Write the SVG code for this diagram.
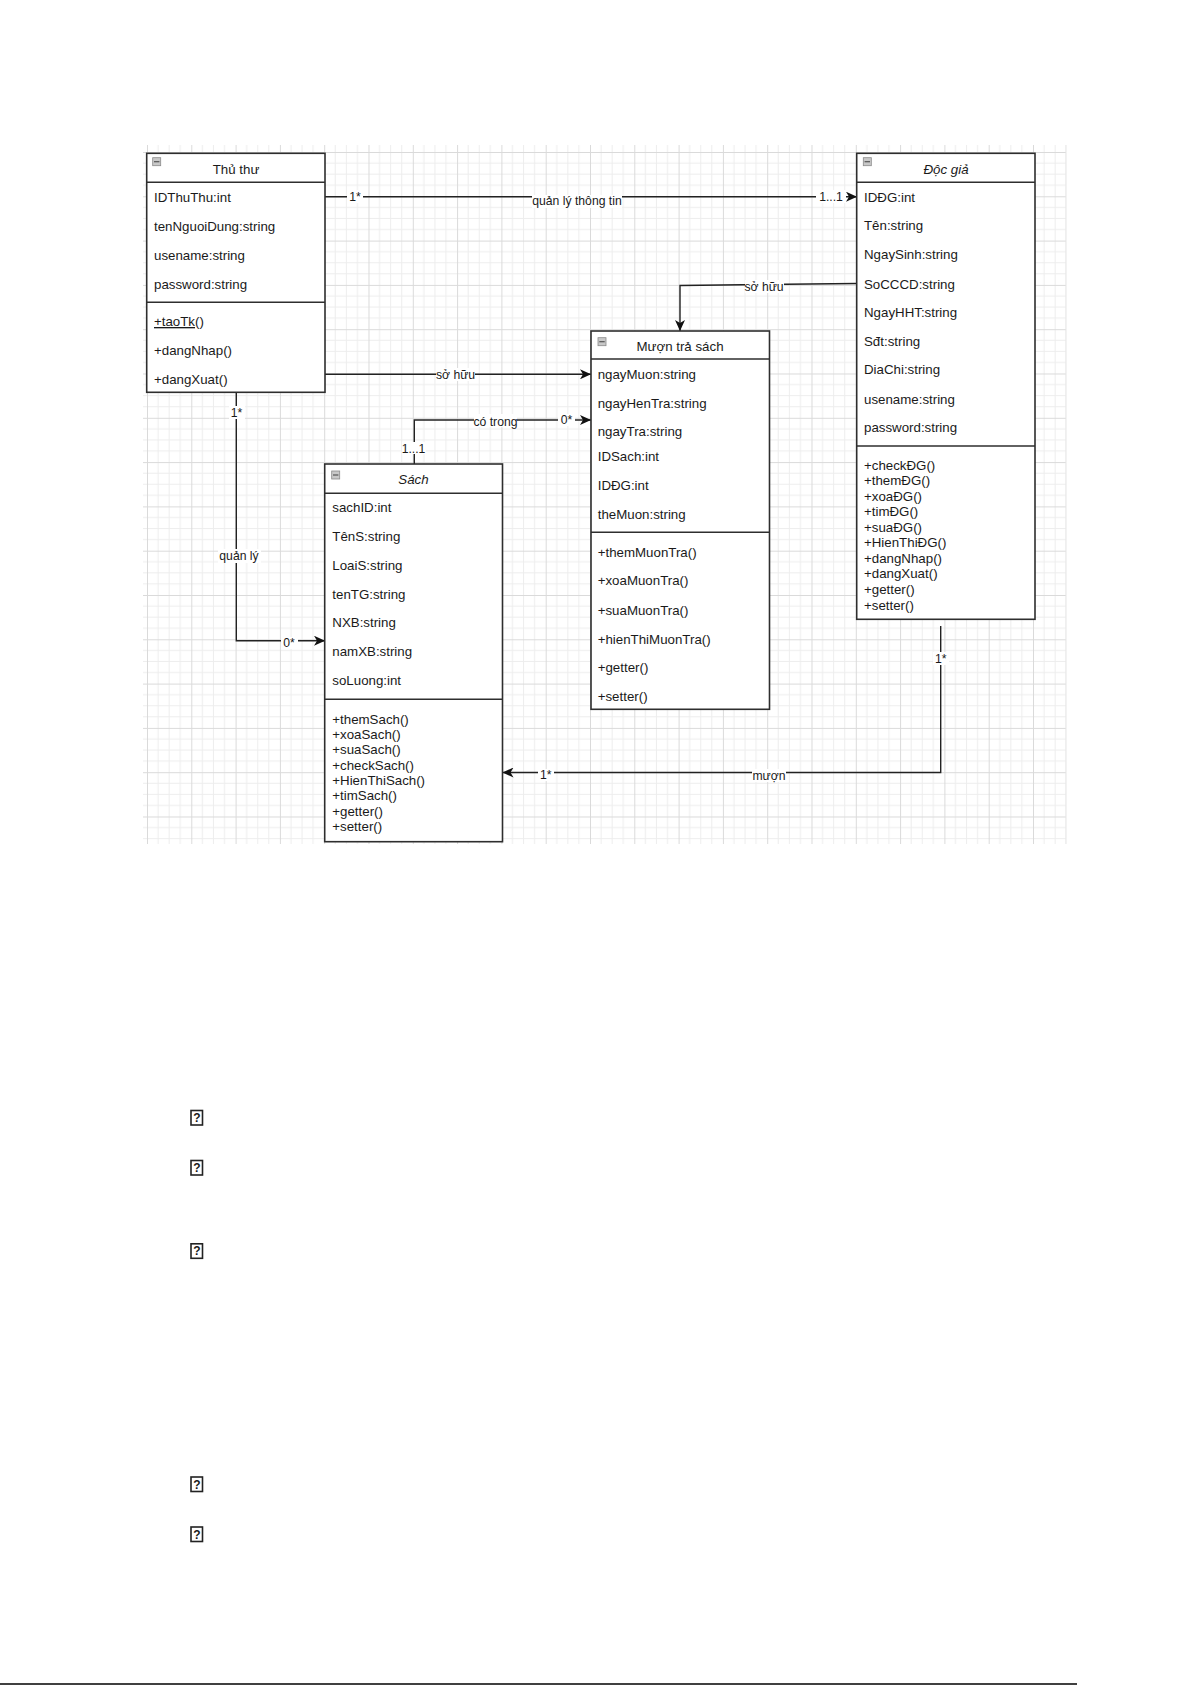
<svg xmlns="http://www.w3.org/2000/svg" width="1192" height="1685" viewBox="0 0 1192 1685">
<style>
text{font-family:"Liberation Sans",Arial,sans-serif;fill:#1a1a1a;font-size:13.3px}
.hd{text-anchor:middle}
.it{font-style:italic}
.lb{font-size:12.2px;text-anchor:middle}
.box{fill:#fff;stroke:#2e2e2e;stroke-width:1.6}
.sep{stroke:#2e2e2e;stroke-width:1.6}
.cn{fill:none;stroke:#222;stroke-width:1.4}
.bg{fill:#fff}
.ic{fill:#c8c8c8;stroke:#8a8a8a;stroke-width:0.8}
.q{font-size:12px;text-anchor:middle;font-weight:bold}
</style>
<defs>
<pattern id="grid" patternUnits="userSpaceOnUse" x="147" y="152" width="44.3" height="44.3">
<path d="M11.07 0V44.3M22.15 0V44.3M33.22 0V44.3M0 11.07H44.3M0 22.15H44.3M0 33.22H44.3" stroke="#ededed" stroke-width="1"/>
<path d="M0.5 0V44.3M0 0.5H44.3" stroke="#dadada" stroke-width="1"/>
</pattern>
<marker id="arr" markerWidth="12" markerHeight="10" refX="11" refY="5" orient="auto" markerUnits="userSpaceOnUse">
<path d="M0,0 L11,5 L0,10 L3,5 z" fill="#111"/>
</marker>
</defs>
<rect width="1192" height="1685" fill="#fff"/>
<rect x="143" y="145" width="923" height="699" fill="url(#grid)"/>
<line x1="1066" y1="145" x2="1066" y2="844" stroke="#e6e6e6" stroke-width="1"/>

<g id="connectors">
<path class="cn" d="M325 196.7H857" marker-end="url(#arr)"/>
<path class="cn" d="M325 374.3H591" marker-end="url(#arr)"/>
<path class="cn" d="M857 283.5L680 285.5V331" marker-end="url(#arr)"/>
<path class="cn" d="M414.3 464V420H591" marker-end="url(#arr)"/>
<path class="cn" d="M236.3 392V640.7H325" marker-end="url(#arr)"/>
<path class="cn" d="M940.7 626V772.5H502.5" marker-end="url(#arr)"/>
<rect class="bg" x="347" y="190" width="16" height="13"/><text class="lb" x="355" y="201">1*</text>
<rect class="bg" x="532" y="195" width="90" height="13"/><text class="lb" x="577" y="205">quản lý thông tin</text>
<rect class="bg" x="816" y="190" width="30" height="13"/><text class="lb" x="831" y="201">1...1</text>
<rect class="bg" x="436" y="368" width="39" height="13"/><text class="lb" x="455.5" y="379">sở hữu</text>
<rect class="bg" x="745" y="280" width="39" height="13"/><text class="lb" x="764" y="291">sở hữu</text>
<rect class="bg" x="474" y="414" width="43" height="13"/><text class="lb" x="495.5" y="425.5">có trong</text>
<rect class="bg" x="558" y="414" width="17" height="12"/><text class="lb" x="566.5" y="424">0*</text>
<rect class="bg" x="402" y="442" width="24" height="12"/><text class="lb" x="413.5" y="452.5">1...1</text>
<rect class="bg" x="229" y="406" width="16" height="13"/><text class="lb" x="236.5" y="416.5">1*</text>
<rect class="bg" x="218" y="549" width="43" height="14"/><text class="lb" x="239" y="560">quản lý</text>
<rect class="bg" x="281" y="637" width="17" height="12"/><text class="lb" x="289" y="647">0*</text>
<rect class="bg" x="933" y="652" width="16" height="13"/><text class="lb" x="940.7" y="663">1*</text>
<rect class="bg" x="538" y="769" width="16" height="12"/><text class="lb" x="545.7" y="779">1*</text>
<rect class="bg" x="752" y="769" width="34" height="13"/><text class="lb" x="769" y="780">mượn</text>
</g>

<g id="thu-thu">
<rect class="box" x="146.7" y="153.3" width="178.3" height="239"/>
<line class="sep" x1="146.7" y1="182.3" x2="325" y2="182.3"/>
<line class="sep" x1="146.7" y1="302.3" x2="325" y2="302.3"/>
<rect class="ic" x="152.7" y="157.7" width="8" height="8"/><line x1="154" y1="161.7" x2="159.4" y2="161.7" stroke="#555" stroke-width="1.2"/>
<text class="hd" x="236" y="173.5">Thủ thư</text>
<text x="154" y="201.5">IDThuThu:int</text>
<text x="154" y="230.5">tenNguoiDung:string</text>
<text x="154" y="259.5">usename:string</text>
<text x="154" y="288.5">password:string</text>
<text x="154" y="326"><tspan text-decoration="underline">+taoTk</tspan>()</text>
<text x="154" y="355">+dangNhap()</text>
<text x="154" y="383.5">+dangXuat()</text>
</g>

<g id="doc-gia">
<rect class="box" x="856.7" y="153.3" width="178.3" height="466"/>
<line class="sep" x1="856.7" y1="182.3" x2="1035" y2="182.3"/>
<line class="sep" x1="856.7" y1="446" x2="1035" y2="446"/>
<rect class="ic" x="863.3" y="157.7" width="8" height="8"/><line x1="864.6" y1="161.7" x2="870" y2="161.7" stroke="#555" stroke-width="1.2"/>
<text class="hd it" x="946" y="173.8">Độc giả</text>
<text x="864" y="201.8">IDĐG:int</text>
<text x="864" y="230.2">Tên:string</text>
<text x="864" y="258.8">NgaySinh:string</text>
<text x="864" y="288.5">SoCCCD:string</text>
<text x="864" y="317.2">NgayHHT:string</text>
<text x="864" y="345.5">Sđt:string</text>
<text x="864" y="373.8">DiaChi:string</text>
<text x="864" y="403.5">usename:string</text>
<text x="864" y="431.8">password:string</text>
<text x="864" y="469.5">+checkĐG()</text>
<text x="864" y="485.1">+themĐG()</text>
<text x="864" y="500.6">+xoaĐG()</text>
<text x="864" y="516.2">+timĐG()</text>
<text x="864" y="531.7">+suaĐG()</text>
<text x="864" y="547.3">+HienThiĐG()</text>
<text x="864" y="562.8">+dangNhap()</text>
<text x="864" y="578.4">+dangXuat()</text>
<text x="864" y="593.9">+getter()</text>
<text x="864" y="609.5">+setter()</text>
</g>

<g id="muon-tra-sach">
<rect class="box" x="591" y="331" width="178.5" height="378.3"/>
<line class="sep" x1="591" y1="359" x2="769.5" y2="359"/>
<line class="sep" x1="591" y1="532.3" x2="769.5" y2="532.3"/>
<rect class="ic" x="598" y="337.7" width="8" height="8"/><line x1="599.3" y1="341.7" x2="604.7" y2="341.7" stroke="#555" stroke-width="1.2"/>
<text class="hd" x="680" y="350.5">Mượn trả sách</text>
<text x="597.7" y="378.5">ngayMuon:string</text>
<text x="597.7" y="407.8">ngayHenTra:string</text>
<text x="597.7" y="435.5">ngayTra:string</text>
<text x="597.7" y="460.5">IDSach:int</text>
<text x="597.7" y="489.5">IDĐG:int</text>
<text x="597.7" y="518.5">theMuon:string</text>
<text x="597.7" y="556.8">+themMuonTra()</text>
<text x="597.7" y="585.2">+xoaMuonTra()</text>
<text x="597.7" y="614.5">+suaMuonTra()</text>
<text x="597.7" y="643.5">+hienThiMuonTra()</text>
<text x="597.7" y="672.2">+getter()</text>
<text x="597.7" y="700.5">+setter()</text>
</g>

<g id="sach">
<rect class="box" x="324.7" y="464" width="177.8" height="377.7"/>
<line class="sep" x1="324.7" y1="493.3" x2="502.5" y2="493.3"/>
<line class="sep" x1="324.7" y1="699.3" x2="502.5" y2="699.3"/>
<rect class="ic" x="331.7" y="471" width="8" height="8"/><line x1="333" y1="475" x2="338.4" y2="475" stroke="#555" stroke-width="1.2"/>
<text class="hd it" x="413.5" y="483.8">Sách</text>
<text x="332.3" y="511.8">sachID:int</text>
<text x="332.3" y="541.2">TênS:string</text>
<text x="332.3" y="569.5">LoaiS:string</text>
<text x="332.3" y="598.8">tenTG:string</text>
<text x="332.3" y="627.2">NXB:string</text>
<text x="332.3" y="655.5">namXB:string</text>
<text x="332.3" y="684.5">soLuong:int</text>
<text x="332.3" y="723.8">+themSach()</text>
<text x="332.3" y="739.1">+xoaSach()</text>
<text x="332.3" y="754.4">+suaSach()</text>
<text x="332.3" y="769.7">+checkSach()</text>
<text x="332.3" y="785">+HienThiSach()</text>
<text x="332.3" y="800.3">+timSach()</text>
<text x="332.3" y="815.6">+getter()</text>
<text x="332.3" y="830.9">+setter()</text>
</g>

<g id="page-marks">
<g fill="#fff" stroke="#222" stroke-width="1.6">
<rect x="191" y="1110.5" width="11.5" height="14.5"/>
<rect x="191" y="1160.5" width="11.5" height="14.5"/>
<rect x="191" y="1243.8" width="11.5" height="14.5"/>
<rect x="191" y="1477" width="11.5" height="14.5"/>
<rect x="191" y="1527" width="11.5" height="14.5"/>
</g>
<text class="q" x="196.8" y="1122">?</text>
<text class="q" x="196.8" y="1172">?</text>
<text class="q" x="196.8" y="1255.3">?</text>
<text class="q" x="196.8" y="1488.5">?</text>
<text class="q" x="196.8" y="1538.5">?</text>
<line x1="0" y1="1684" x2="1077" y2="1684" stroke="#000" stroke-width="1.3"/>
</g>
</svg>
